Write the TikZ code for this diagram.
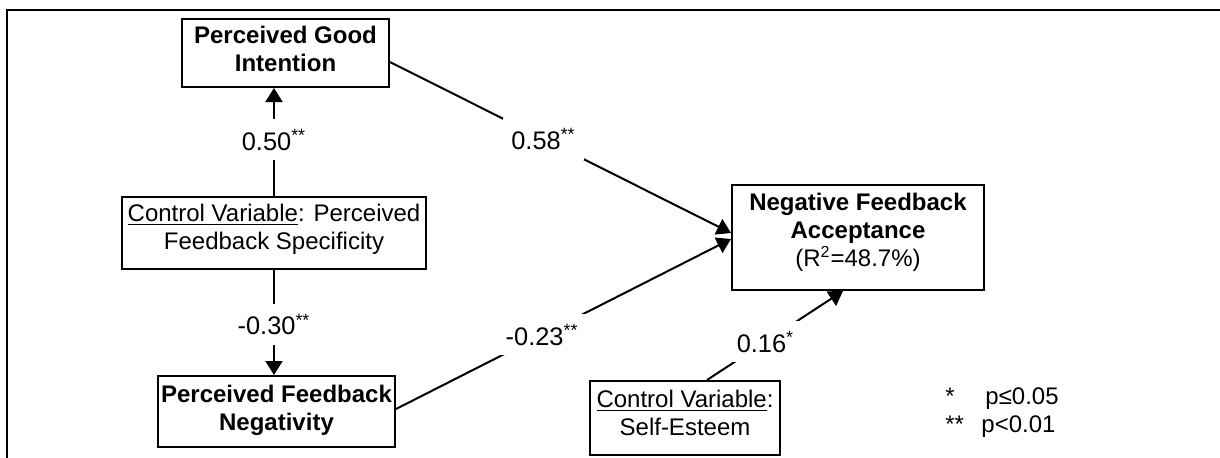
\documentclass[tikz,border=0pt]{standalone}
\usepackage{fontspec}
\setmainfont{Liberation Sans}
\usetikzlibrary{arrows.meta}
\newcommand\xdep[1]{\rule[-#1]{0pt}{#1}}
\begin{document}
\begin{tikzpicture}[x=0.5pt,y=-0.5pt,
  font=\fontsize{12pt}{14pt}\selectfont,
  box/.style={draw, line width=1pt, inner sep=0pt, align=center},
  boldbox/.style={box, font=\fontsize{12pt}{14pt}\selectfont\bfseries},
  conn/.style={line width=1pt},
  arr/.style={conn, -{Triangle[length=7pt,width=8.5pt]}},
  lab/.style={fill=white, inner xsep=4pt, inner ysep=5pt, font=\fontsize{12.7pt}{14pt}\selectfont},
  legend/.style={anchor=base west, inner sep=0pt}]
\useasboundingbox (0,0) rectangle (1220,457);
\draw[line width=1.4pt] (7,470) -- (7,10) -- (1230,10);

\node[boldbox, minimum width=103.5pt, minimum height=34pt] (pgi) at (285.5,53) {Perceived Good\\Intention\xdep{4pt}};
\node[box, minimum width=152pt, minimum height=36pt] (ctrl) at (274,233) {\underline{Control Variable}: Perceived\\Feedback Specificity\xdep{6.5pt}};
\node[boldbox, minimum width=118.5pt, minimum height=35.5pt] (pfn) at (276.5,411.5) {Perceived Feedback\\Negativity\xdep{4pt}};
\node[box, minimum width=126pt, minimum height=52.5pt] (nfa) at (858,237.5) {\textbf{Negative Feedback}\\\textbf{Acceptance}\\(R\textsuperscript{2}=48.7\%)\xdep{8pt}};
\node[box, minimum width=95pt, minimum height=37pt] (se) at (685,418) {\underline{Control Variable}:\\Self-Esteem\xdep{5.5pt}};

\node[legend] (s1) at (945,404.5) {*};
\node[legend] (p1) at (985,404.5) {p≤0.05};
\node[legend] (s2) at (945,432.5) {**};
\node[legend] (p2) at (981,432.5) {p<0.01};

\draw[arr] (ctrl.north) -- (ctrl.north |- pgi.south) node[lab, pos=0.52] (l1) {0.50\textsuperscript{**}};
\draw[arr] (ctrl.south) -- (ctrl.south |- pfn.north) node[lab, pos=0.52] (l2) {-0.30\textsuperscript{**}};
\draw[arr] ([yshift=-4.5pt]pgi.east) -- ([yshift=2.25pt]nfa.west) node[lab, pos=0.45] (l3) {0.58\textsuperscript{**}};
\draw[arr] ([yshift=1.25pt]pfn.east) -- ([yshift=-0.75pt]nfa.west) node[lab, pos=0.436] (l4) {-0.23\textsuperscript{**}};
\draw[arr] ([xshift=11pt]se.north) -- ([xshift=-7.5pt]nfa.south) node[lab, pos=0.43] (l5) {0.16\textsuperscript{*}};
\end{tikzpicture}
\end{document}
